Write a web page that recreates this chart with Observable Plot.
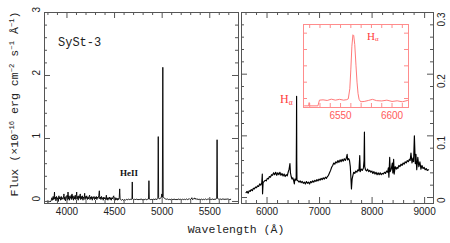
<!DOCTYPE html>
<html><head><meta charset="utf-8">
<script src="https://cdn.jsdelivr.net/npm/d3@7"></script>
<script src="https://cdn.jsdelivr.net/npm/@observablehq/plot@0.6"></script>
<style>
body{margin:0;background:#fff;}
#wrap{position:relative;width:450px;height:243px;overflow:hidden;background:#fff;}
#wrap svg{position:absolute;left:0;top:0;}
.lbl{position:absolute;white-space:nowrap;line-height:1;}
.mono{font-family:"Liberation Mono","DejaVu Sans Mono",monospace;color:#222;}
.ser{font-family:"Liberation Serif","DejaVu Serif",serif;}
sup{font-size:0.62em;vertical-align:0.55em;line-height:0;}
sub{font-size:0.62em;vertical-align:-0.25em;line-height:0;}
</style></head><body><div id="wrap"></div>
<script>
// ---- Left panel spectrum (Angstrom, 1e-16 erg/cm2/s/A) ----
const leftWave = [3790,3800,3812,3822,3832,3842,3848,3855,3861,3866,3869,3872,3878,3884,3890,3896,3903,3909,3915,3921,3927,3933,3940,3946,3952,3958,3966,3968,3972,3978,3984,3990,3996,4002,4008,4011,4015,4021,4027,4033,4039,4045,4050,4053,4057,4063,4069,4075,4081,4087,4093,4098,4102,4106,4112,4118,4124,4130,4136,4140,4144,4150,4156,4162,4168,4174,4180,4186,4190,4196,4202,4208,4214,4220,4226,4232,4238,4242,4248,4254,4260,4266,4272,4278,4284,4290,4296,4302,4308,4314,4320,4326,4334,4340,4345,4351,4357,4363,4369,4375,4381,4387,4393,4399,4405,4411,4414,4418,4424,4430,4436,4442,4448,4454,4460,4466,4472,4478,4484,4491,4495,4501,4507,4513,4519,4525,4531,4537,4543,4549,4554,4558,4565,
4575,4585,4595,4605,4615,4625,4635,4645,4655,4665,4675,4683,4686,4689,4697,4707,4717,4727,4737,4747,4757,4767,4777,4787,4797,4807,4817,4827,4837,4847,4857,4861,4865,4875,4885,4895,4905,4915,4925,4935,4945,4955,4959,4963,4970,4980,4990,4997,5002,5007,5011,5016,5025,5035,5045,5055,5065,5075,5085,5095,5105,5115,5125,5135,5145,5155,5165,5175,5185,5195,5205,5215,5225,5235,5245,5255,5265,5275,5285,5295,5305,5312,5318,5328,5338,5345,5355,5365,5375,5385,5395,5405,5415,5425,5435,5445,5455,5465,5475,5485,5495,5505,5515,5525,5535,5545,5555,5565,5573,5577,5581,5590,5600,5610,5620,5630,5640,5650,5660,5670,5680,5690,5700,5710,5720];
const leftFlux = [0.0,-0.01,0.0,-0.005,0.005,0.06,0.02,0.08,0.03,0.09,0.15,0.04,0.07,0.01,0.08,0.03,0.06,0.0,0.09,0.04,0.07,0.02,0.08,0.03,0.06,0.04,0.09,0.12,0.03,0.07,0.01,0.08,0.05,0.1,0.02,0.15,0.04,0.09,0.02,0.08,0.05,0.1,0.03,0.12,0.05,0.09,0.02,0.08,0.04,0.1,0.03,0.09,0.15,0.04,0.08,0.02,0.09,0.05,0.1,0.12,0.03,0.08,0.04,0.09,0.02,0.07,0.05,0.13,0.03,0.08,0.05,0.09,0.03,0.07,0.04,0.08,0.1,0.03,0.07,0.04,0.08,0.02,0.07,0.05,0.08,0.03,0.07,0.04,0.08,0.03,0.07,0.05,0.09,0.17,0.04,0.07,0.03,0.08,0.04,0.06,0.02,0.07,0.04,0.06,0.03,0.07,0.1,0.03,0.06,0.02,0.06,0.04,0.07,0.03,0.06,0.02,0.06,0.04,0.07,0.09,0.03,0.05,0.02,0.06,0.03,0.05,0.02,0.05,0.03,0.06,0.2,0.04,0.03,
0.02,0.035,0.015,0.03,0.02,0.035,0.025,0.04,0.03,0.035,0.03,0.04,0.31,0.04,0.03,0.04,0.025,0.04,0.03,0.035,0.025,0.04,0.03,0.04,0.02,0.035,0.03,0.04,0.025,0.035,0.04,0.33,0.04,0.03,0.035,0.025,0.04,0.03,0.035,0.04,0.03,0.05,1.03,0.06,0.04,0.05,0.06,0.12,0.07,2.13,0.08,0.06,0.05,0.04,0.035,0.04,0.03,0.035,0.025,0.04,0.03,0.035,0.03,0.04,0.025,0.035,0.03,0.04,0.03,0.035,0.025,0.04,0.03,0.035,0.03,0.04,0.03,0.035,0.045,0.03,0.04,0.06,0.03,0.04,0.055,0.035,0.05,0.03,0.04,0.03,0.035,0.03,0.04,0.025,0.035,0.03,0.04,0.03,0.035,0.04,0.03,0.035,0.03,0.04,0.035,0.03,0.04,0.035,0.05,0.98,0.05,0.04,0.035,0.04,0.03,0.04,0.035,0.04,0.03,0.04,0.035,0.04,0.035,0.03,0.035];

// ---- Right panel spectrum ----
const rightWave = [5600,5620,5640,5660,5680,5700,5720,5740,5760,5780,5800,5820,5840,5860,5880,5900,5910,5915,5925,5945,5965,5985,6005,6025,6045,6065,6085,6105,6125,6145,6165,6185,6205,6225,6245,6265,6285,6305,6325,6345,6365,6385,6405,6420,6436,6446,6460,6475,6490,6505,6520,6530,6545,6555,6560,6563,6566,6570,6590,6610,6630,6650,6670,6690,6710,6730,6750,6770,6790,6810,6830,6850,6870,6890,6910,6930,6950,6970,6990,7010,7030,7050,7070,7090,7110,7130,7150,7170,7190,7210,7230,7250,7270,7290,7310,7330,7350,7370,7390,7410,7430,7450,7470,7490,7510,7525,7535,7555,7570,7585,7595,7607,7620,7635,7650,7670,7690,7710,7730,7750,7765,7775,7795,7815,7835,7847,7854,7860,7875,7895,7915,7935,7955,7975,7995,8015,8035,8055,8075,8095,8115,8135,8155,8175,8195,8215,8235,8255,8275,8295,8310,8320,8335,8345,8365,8385,8395,8410,8420,8440,8460,8475,8490,8510,8530,8550,8570,8590,8610,8630,8650,8670,8690,8710,8725,8740,8760,8778,8790,8805,8822,8835,8850,8870,8890,8910,8930,8950,8970,8990,9010,9030,9050,9075];
const rightFlux = [0.008,0.01,0.007,0.011,0.01,0.013,0.011,0.015,0.014,0.017,0.016,0.019,0.018,0.022,0.02,0.024,0.038,0.006,0.024,0.026,0.028,0.027,0.031,0.03,0.034,0.033,0.037,0.036,0.04,0.037,0.041,0.036,0.04,0.037,0.041,0.036,0.039,0.035,0.038,0.034,0.037,0.035,0.042,0.046,0.055,0.04,0.034,0.03,0.032,0.028,0.022,0.03,0.028,0.032,0.1,0.164,0.06,0.028,0.027,0.025,0.027,0.024,0.026,0.023,0.025,0.022,0.026,0.023,0.025,0.022,0.026,0.024,0.027,0.025,0.028,0.026,0.029,0.027,0.03,0.028,0.031,0.029,0.032,0.03,0.033,0.031,0.034,0.036,0.04,0.044,0.049,0.052,0.056,0.054,0.058,0.056,0.06,0.057,0.061,0.058,0.062,0.059,0.063,0.06,0.064,0.07,0.061,0.063,0.06,0.05,0.035,0.014,0.03,0.036,0.041,0.039,0.043,0.041,0.045,0.043,0.068,0.042,0.046,0.044,0.048,0.06,0.106,0.05,0.045,0.043,0.046,0.042,0.044,0.041,0.043,0.039,0.042,0.038,0.041,0.037,0.04,0.037,0.04,0.037,0.039,0.038,0.041,0.039,0.043,0.041,0.048,0.033,0.065,0.042,0.046,0.056,0.04,0.062,0.038,0.05,0.046,0.049,0.047,0.052,0.05,0.054,0.052,0.056,0.054,0.058,0.056,0.06,0.058,0.062,0.06,0.072,0.056,0.064,0.058,0.1,0.055,0.07,0.045,0.065,0.05,0.058,0.046,0.052,0.047,0.049,0.045,0.047,0.044,0.045,0.042,0.043,0.041,0.042];

// ---- Inset: H-alpha profile (relative units) ----
const insetWave = [6515,6519,6519.5,6520,6528,6529.5,6533,6537,6541,6545,6549,6553,6556,6557.5,6559,6560,6561,6562,6562.8,6563.8,6565,6566,6567,6568,6569.5,6573,6577,6581,6585,6590,6595,6600,6605,6610,6615];
const insetFlux = [0.55,0.55,0.75,0.55,0.55,0.9,0.92,0.88,0.96,0.9,0.95,0.9,0.93,0.98,1.6,2.8,4.2,4.9,4.85,4.3,3.0,2.0,1.3,0.95,0.8,0.82,0.88,0.95,0.87,0.85,0.9,0.82,0.86,0.8,0.88];

// ---- ticks & labels ----
const leftXMajor = [4000,4500,5000,5500];
const leftXLabels = ["4000","4500","5000","5500"];
const leftXMinor = [3800,3900,4100,4200,4300,4400,4600,4700,4800,4900,5100,5200,5300,5400,5600,5700];
const leftYMajor = [0,1,2,3];
const leftYLabels = ["0","1","2","3"];
const leftYMinor = [0.2,0.4,0.6,0.8,1.2,1.4,1.6,1.8,2.2,2.4,2.6,2.8];
const rightXMajor = [6000,7000,8000,9000];
const rightXLabels = ["6000","7000","8000","9000"];
const rightXMinor = [5600,5800,6200,6400,6600,6800,7200,7400,7600,7800,8200,8400,8600,8800];
const rightYMajor = [0,0.1,0.2,0.3];
const rightYLabels = ["0","0.1","0.2","0.3"];
const rightYMinor = [0.02,0.04,0.06,0.08,0.12,0.14,0.16,0.18,0.22,0.24,0.26,0.28];
const insetXMajor = [6550,6600];
const insetXLabels = ["6550","6600"];
const insetXMinor = [6520,6530,6540,6560,6570,6580,6590,6610];
const insetYTicks = [1,2,3,4,5];

const W = 450, H = 243;
const sans = "'Liberation Sans', Arial, sans-serif";

// inward ticks on all four sides, drawn as short rules inset from the frame
function frameTicks(m, xMaj, xMin, yMaj, yMin, big, small, color) {
  const iw = W - m.l - m.r, ih = H - m.t - m.b;
  const s = {stroke: color, strokeWidth: 1};
  const out = [];
  for (const [arr, len] of [[xMaj, big], [xMin, small]]) {
    out.push(Plot.ruleX(arr, {...s, x: d => d, insetTop: ih - len}));
    out.push(Plot.ruleX(arr, {...s, x: d => d, insetBottom: ih - len}));
  }
  for (const [arr, len] of [[yMaj, big], [yMin || [], small]]) {
    out.push(Plot.ruleY(arr, {...s, y: d => d, insetRight: iw - len}));
    out.push(Plot.ruleY(arr, {...s, y: d => d, insetLeft: iw - len}));
  }
  return out;
}

const leftData = leftWave.map((w, i) => ({w, f: leftFlux[i]}));
const rightData = rightWave.map((w, i) => ({w, f: rightFlux[i]}));
const insetData = insetWave.map((w, i) => ({w, f: insetFlux[i]}));

const mL = {l: 44, r: 212, t: 12, b: 40};
const mR = {l: 241, r: 17, t: 12, b: 40};
const mI = {l: 303, r: 42, t: 24, b: 136};

const leftPlot = Plot.plot({
  width: W, height: H,
  marginLeft: mL.l, marginRight: mL.r, marginTop: mL.t, marginBottom: mL.b,
  style: {background: "white", color: "#333", fontFamily: sans, fontSize: "10px"},
  x: {domain: [3764, 5802], label: null, axis: null},
  y: {domain: [-0.032, 3], label: null, axis: null},
  marks: [
    Plot.line(leftData, {x: "w", y: "f", stroke: "#000", strokeWidth: 0.9, clip: true}),
    Plot.frame({stroke: "#555"}),
    ...frameTicks(mL, leftXMajor, leftXMinor, leftYMajor, leftYMinor, 6, 3, "#555"),
    Plot.text(leftXMajor, {x: d => d, text: (d, i) => leftXLabels[i], frameAnchor: "bottom", dy: 11, fontSize: 10, fill: "#222"}),
    Plot.text(leftYMajor, {y: d => d, text: (d, i) => leftYLabels[i], frameAnchor: "left", dx: -8, rotate: -90, fontSize: 10, fill: "#222"})
  ]
});

const rightPlot = Plot.plot({
  width: W, height: H,
  marginLeft: mR.l, marginRight: mR.r, marginTop: mR.t, marginBottom: mR.b,
  style: {background: "transparent", color: "#333", fontFamily: sans, fontSize: "10px"},
  x: {domain: [5514, 9169], label: null, axis: null},
  y: {domain: [-0.0097, 0.3], label: null, axis: null},
  marks: [
    Plot.line(rightData, {x: "w", y: "f", stroke: "#000", strokeWidth: 1.15, clip: true}),
    Plot.frame({stroke: "#555"}),
    ...frameTicks(mR, rightXMajor, rightXMinor, rightYMajor, rightYMinor, 6, 3, "#555"),
    Plot.text(rightXMajor, {x: d => d, text: (d, i) => rightXLabels[i], frameAnchor: "bottom", dy: 11, fontSize: 10, fill: "#222"}),
    Plot.text(rightYMajor, {y: d => d, text: (d, i) => rightYLabels[i], frameAnchor: "right", dx: 8, rotate: -90, fontSize: 10, fill: "#222"})
  ]
});

const insetRed = "#ff5a5a";
const insetPlot = Plot.plot({
  width: W, height: H,
  marginLeft: mI.l, marginRight: mI.r, marginTop: mI.t, marginBottom: mI.b,
  style: {background: "transparent", color: "#ff8c8c", fontFamily: sans, fontSize: "10px"},
  x: {domain: [6514, 6616], label: null, axis: null},
  y: {domain: [0.45, 5.53], label: null, axis: null},
  marks: [
    Plot.line(insetData, {x: "w", y: "f", stroke: "#ff6a6a", strokeWidth: 0.9, clip: true}),
    Plot.frame({stroke: "#ff8c8c"}),
    ...frameTicks(mI, insetXMajor, insetXMinor, insetYTicks, null, 4, 4, "#ff8c8c"),
    Plot.text(insetXMajor, {x: d => d, text: (d, i) => insetXLabels[i], frameAnchor: "bottom", dy: 11, fontSize: 10, fill: insetRed})
  ]
});

const wrap = document.getElementById("wrap");
wrap.append(leftPlot, rightPlot, insetPlot);

function addLabel(html, cls, css) {
  const d = document.createElement("div");
  d.className = "lbl " + cls;
  d.innerHTML = html;
  Object.assign(d.style, css);
  wrap.append(d);
}
addLabel("Flux (×10<sup>−16</sup> erg cm<sup>−2</sup> s<sup>−1</sup> Å<sup>−1</sup>)", "mono",
  {left: "15px", top: "104px", fontSize: "11.6px", transform: "translate(-50%,-50%) rotate(-90deg)"});
addLabel("Wavelength (Å)", "mono", {left: "236px", top: "230px", fontSize: "11.5px", transform: "translate(-50%,-50%)"});
addLabel("SySt-3", "mono", {left: "58px", top: "43px", fontSize: "12px", transform: "translateY(-50%)"});
addLabel("HeII", "ser", {left: "120px", top: "173px", fontSize: "9px", fontWeight: "bold", color: "#111", transform: "translateY(-50%)"});
addLabel("H<sub>α</sub>", "ser", {left: "280px", top: "99px", fontSize: "12px", color: "#ff3b3b", transform: "translateY(-50%)"});
addLabel("H<sub>α</sub>", "ser", {left: "367px", top: "36px", fontSize: "11px", color: "#ff3b3b", transform: "translateY(-50%)"});
</script></body></html>
